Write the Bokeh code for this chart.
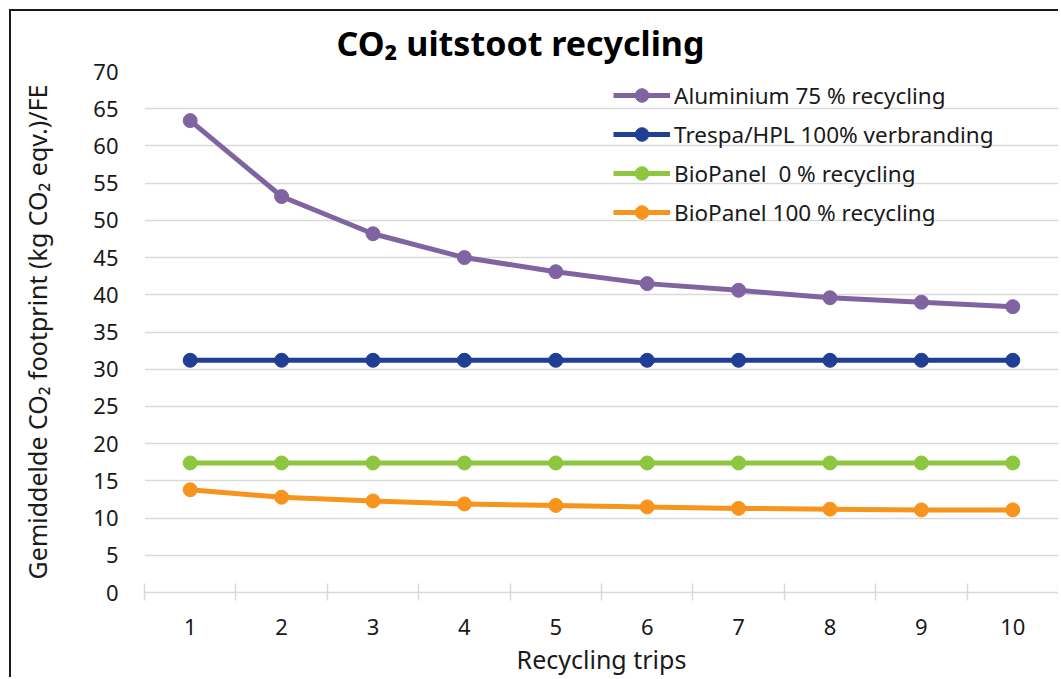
from bokeh.plotting import figure
from bokeh.models import Range1d, FixedTicker, Legend, LegendItem, Title
from bokeh.embed import file_html
from bokeh.resources import INLINE

# ---- data ----
trips = [1, 2, 3, 4, 5, 6, 7, 8, 9, 10]
aluminium_75 = [63.4, 53.2, 48.2, 45.0, 43.1, 41.5, 40.6, 39.6, 39.0, 38.4]
trespa_hpl_100 = [31.2, 31.2, 31.2, 31.2, 31.2, 31.2, 31.2, 31.2, 31.2, 31.2]
biopanel_0 = [17.4, 17.4, 17.4, 17.4, 17.4, 17.4, 17.4, 17.4, 17.4, 17.4]
biopanel_100 = [13.8, 12.8, 12.3, 11.9, 11.7, 11.5, 11.3, 11.2, 11.1, 11.1]
series_labels = ["Aluminium 75 % recycling", "Trespa/HPL 100% verbranding",
                 "BioPanel  0 % recycling", "BioPanel 100 % recycling"]
y_ticks = [0, 5, 10, 15, 20, 25, 30, 35, 40, 45, 50, 55, 60, 65, 70]
x_ticks = trips
x_bounds = [0.5, 1.5, 2.5, 3.5, 4.5, 5.5, 6.5, 7.5, 8.5, 9.5, 10.5]
title_text = "CO\u2082 uitstoot recycling"
y_label_text = "Gemiddelde CO\u2082 footprint (kg CO\u2082 eqv.)/FE"
x_label_text = "Recycling trips"

colors = ["#8064A2", "#203E94", "#8DC63F", "#F7941D"]
FONT = "Noto Sans"
TXT = "#1a1a1a"

p = figure(width=1049, height=668, output_backend="svg", toolbar_location=None,
           x_range=Range1d(0.5, 10.5), y_range=Range1d(0, 70),
           min_border_left=133, min_border_right=2, min_border_top=60,
           min_border_bottom=87)
p.outline_line_color = None
p.styles = {"margin-left": "9px", "margin-top": "9px",
            "border-left": "2px solid #1a1a1a", "border-top": "2px solid #1a1a1a"}

# title
p.title = Title(text=title_text, align="left", offset=192, standoff=12,
                text_font=FONT, text_font_size="34px", text_font_style="bold",
                text_color="#000000")

# axes
p.xaxis.ticker = FixedTicker(ticks=x_ticks, minor_ticks=x_bounds)
p.yaxis.ticker = FixedTicker(ticks=y_ticks)
p.xgrid.visible = False
p.ygrid.grid_line_color = "#d9d9d9"
p.ygrid.grid_line_width = 1.5

p.yaxis.axis_line_color = None
p.yaxis.major_tick_line_color = None
p.yaxis.minor_tick_line_color = None
p.yaxis.major_tick_in = 0
p.yaxis.major_tick_out = 0
p.yaxis.major_label_standoff = 26
p.yaxis.axis_label = y_label_text
p.yaxis.axis_label_standoff = 36

p.xaxis.axis_line_color = "#d9d9d9"
p.xaxis.axis_line_width = 1.5
p.xaxis.major_tick_line_color = None
p.xaxis.major_tick_in = 0
p.xaxis.major_tick_out = 0
p.xaxis.minor_tick_line_color = "#d9d9d9"
p.xaxis.minor_tick_line_width = 1.5
p.xaxis.minor_tick_in = 9
p.xaxis.minor_tick_out = 8
p.xaxis.major_label_standoff = 18
p.xaxis.axis_label = x_label_text
p.xaxis.axis_label_standoff = 4

for ax in (p.xaxis[0], p.yaxis[0]):
    ax.major_label_text_font = FONT
    ax.major_label_text_font_size = "22px"
    ax.major_label_text_color = TXT
    ax.axis_label_text_font = FONT
    ax.axis_label_text_font_size = "25px"
    ax.axis_label_text_font_style = "normal"
    ax.axis_label_text_color = TXT

series = [aluminium_75, trespa_hpl_100, biopanel_0, biopanel_100]
items = []
for vals, col, lab in zip(series, colors, series_labels):
    l = p.line(trips, vals, line_color=col, line_width=5)
    s = p.scatter(trips, vals, size=14, fill_color=col, line_color=col)
    items.append(LegendItem(label=lab, renderers=[l, s]))

legend = Legend(items=items, location=(469, 363), orientation="vertical",
                glyph_width=57, glyph_height=34, label_height=34, spacing=5,
                label_standoff=4, padding=4, margin=0,
                background_fill_alpha=0, border_line_color=None,
                label_text_font=FONT, label_text_font_size="22.5px",
                label_text_color=TXT)
p.add_layout(legend, "center")

open("out.html", "w").write(file_html(p, INLINE))
